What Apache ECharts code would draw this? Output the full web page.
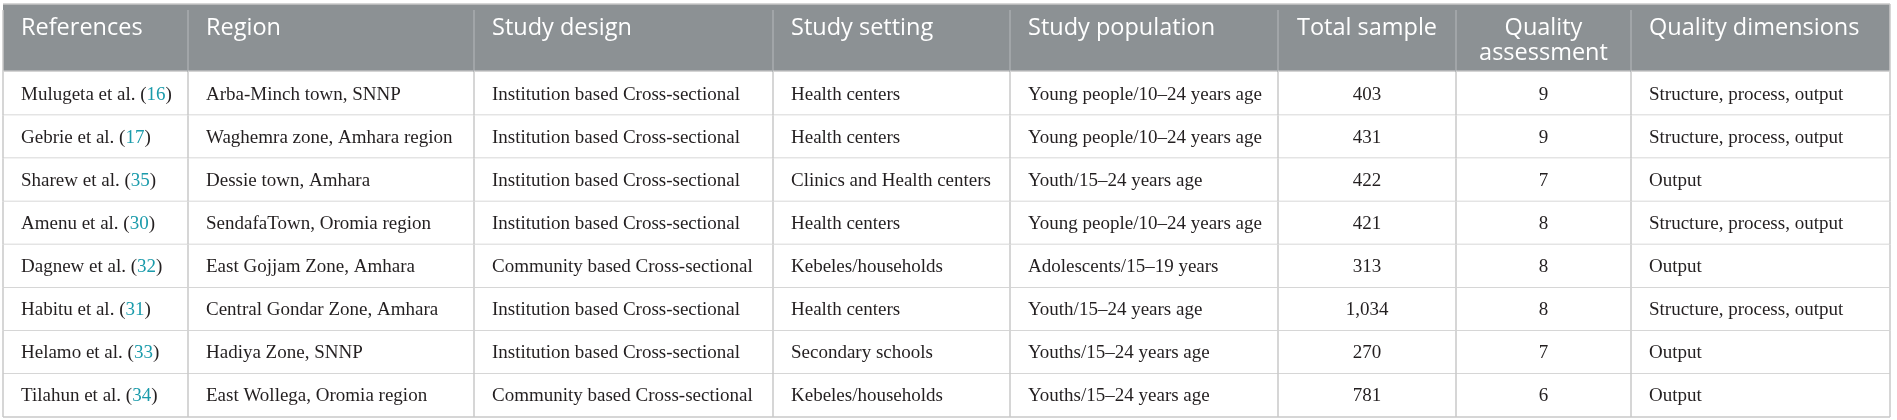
<!DOCTYPE html>
<html>
<head>
<meta charset="utf-8">
<script src="https://cdn.jsdelivr.net/npm/echarts@6/dist/echarts.min.js"></script>
<style>
  html, body { margin: 0; padding: 0; background: #fff; }
  #Table { width: 1897px; height: 420px; }
</style>
</head>
<body>
<div id="Table"></div>
<script>
  // 表头
  var headers = ["References", "Region", "Study design", "Study setting", "Study population", "Total sample", "Quality\nassessment", "Quality dimensions"];
  // 每一列的数据
  var authors = ["Mulugeta et al.", "Gebrie et al.", "Sharew et al.", "Amenu et al.", "Dagnew et al.", "Habitu et al.", "Helamo et al.", "Tilahun et al."];
  var refNums = ["16", "17", "35", "30", "32", "31", "33", "34"];
  var regions = ["Arba-Minch town, SNNP", "Waghemra zone, Amhara region", "Dessie town, Amhara", "SendafaTown, Oromia region", "East Gojjam Zone, Amhara", "Central Gondar Zone, Amhara", "Hadiya Zone, SNNP", "East Wollega, Oromia region"];
  var designs = ["Institution based Cross-sectional", "Institution based Cross-sectional", "Institution based Cross-sectional", "Institution based Cross-sectional", "Community based Cross-sectional", "Institution based Cross-sectional", "Institution based Cross-sectional", "Community based Cross-sectional"];
  var settings = ["Health centers", "Health centers", "Clinics and Health centers", "Health centers", "Kebeles/households", "Health centers", "Secondary schools", "Kebeles/households"];
  var populations = ["Young people/10\u201324 years age", "Young people/10\u201324 years age", "Youth/15\u201324 years age", "Young people/10\u201324 years age", "Adolescents/15\u201319 years", "Youth/15\u201324 years age", "Youths/15\u201324 years age", "Youths/15\u201324 years age"];
  var totals = ["403", "431", "422", "421", "313", "1,034", "270", "781"];
  var quality = ["9", "9", "7", "8", "8", "8", "7", "6"];
  var dimensions = ["Structure, process, output", "Structure, process, output", "Output", "Structure, process, output", "Output", "Structure, process, output", "Output", "Output"];

  // 布局：列宽和行高（像素单位的坐标轴）
  var colWidths = [185, 286, 299, 237, 268, 178, 175, 259];
  var headerHeight = 68;
  var rowHeight = 43.125;
  var centered = [false, false, false, false, false, true, true, false];

  var colEdges = [0];
  colWidths.forEach(function (w, i) { colEdges.push(colEdges[i] + w); });
  var rowEdges = [0, headerHeight];
  for (var i = 0; i < authors.length; i++) rowEdges.push(headerHeight + rowHeight * (i + 1));

  var columns = [null, regions, designs, settings, populations, totals, quality, dimensions];

  // 生成单元格数据 [列, 行]
  var cells = [];
  for (var r = 0; r <= authors.length; r++) {
    for (var c = 0; c < headers.length; c++) cells.push([c, r]);
  }

  function cellText(c, r) {
    if (r === 0) return headers[c];
    if (c === 0) return "{a|" + authors[r - 1] + " (}{n|" + refNums[r - 1] + "}{a|)}";
    return columns[c][r - 1];
  }

  var chart = echarts.init(document.getElementById("Table"));
  var option = {
    animation: false,
    grid: { left: 3, right: 7, top: 4, bottom: 3 },
    xAxis: { type: "value", min: 0, max: colEdges[colEdges.length - 1], show: false },
    yAxis: { type: "value", min: 0, max: rowEdges[rowEdges.length - 1], inverse: true, show: false },
    series: [{
      type: "custom",
      clip: false,
      data: cells,
      renderItem: function (params, api) {
        var c = api.value(0);
        var r = api.value(1);
        var p0 = api.coord([colEdges[c], rowEdges[r]]);
        var p1 = api.coord([colEdges[c + 1], rowEdges[r + 1]]);
        var w = p1[0] - p0[0];
        var h = p1[1] - p0[1];
        var isHead = r === 0;
        var children = [];
        children.push({
          type: "rect",
          shape: { x: p0[0], y: p0[1], width: w, height: h },
          style: { fill: isHead ? "#8c9194" : "#ffffff", stroke: null }
        });
        // 左侧竖线
        children.push({
          type: "line",
          shape: { x1: p0[0], y1: p0[1] + (isHead ? 6 : 0), x2: p0[0], y2: p1[1] },
          style: { stroke: isHead ? (c === 0 ? "#c9c9c9" : "#a9adaf") : "#c9c9c9", lineWidth: 1.5 }
        });
        if (c === headers.length - 1) {
          children.push({
            type: "line",
            shape: { x1: p1[0], y1: p0[1], x2: p1[0], y2: p1[1] },
            style: { stroke: "#c9c9c9", lineWidth: 1.5 }
          });
        }
        // 底部横线
        children.push({
          type: "line",
          shape: { x1: p0[0], y1: p1[1], x2: p1[0], y2: p1[1] },
          style: { stroke: isHead ? "#d4d4d4" : "#c9c9c9", lineWidth: isHead ? 3 : 1.5 }
        });
        if (isHead) {
          children.push({
            type: "line",
            shape: { x1: p0[0], y1: p0[1], x2: p1[0], y2: p0[1] },
            style: { stroke: "#c9c9c9", lineWidth: 1.5 }
          });
        }
        var tx = centered[c] ? p0[0] + w / 2 : p0[0] + 18;
        var ty = isHead ? p0[1] + (c === 6 ? 37 : 24) : p0[1] + h / 2 + 1;
        children.push({
          type: "text",
          style: {
            text: cellText(c, r),
            x: tx,
            y: ty,
            align: centered[c] ? "center" : "left",
            verticalAlign: "middle",
            fill: isHead ? "#ffffff" : "#231f20",
            font: isHead ? "23.5px 'Open Sans'" : "19px 'Liberation Serif'",
            lineHeight: 25,
            rich: {
              a: { fill: "#231f20", font: "19px 'Liberation Serif'" },
              n: { fill: "#1a9bab", font: "19px 'Liberation Serif'" }
            }
          }
        });
        return { type: "group", children: children };
      }
    }]
  };
  chart.setOption(option);
</script>
</body>
</html>
